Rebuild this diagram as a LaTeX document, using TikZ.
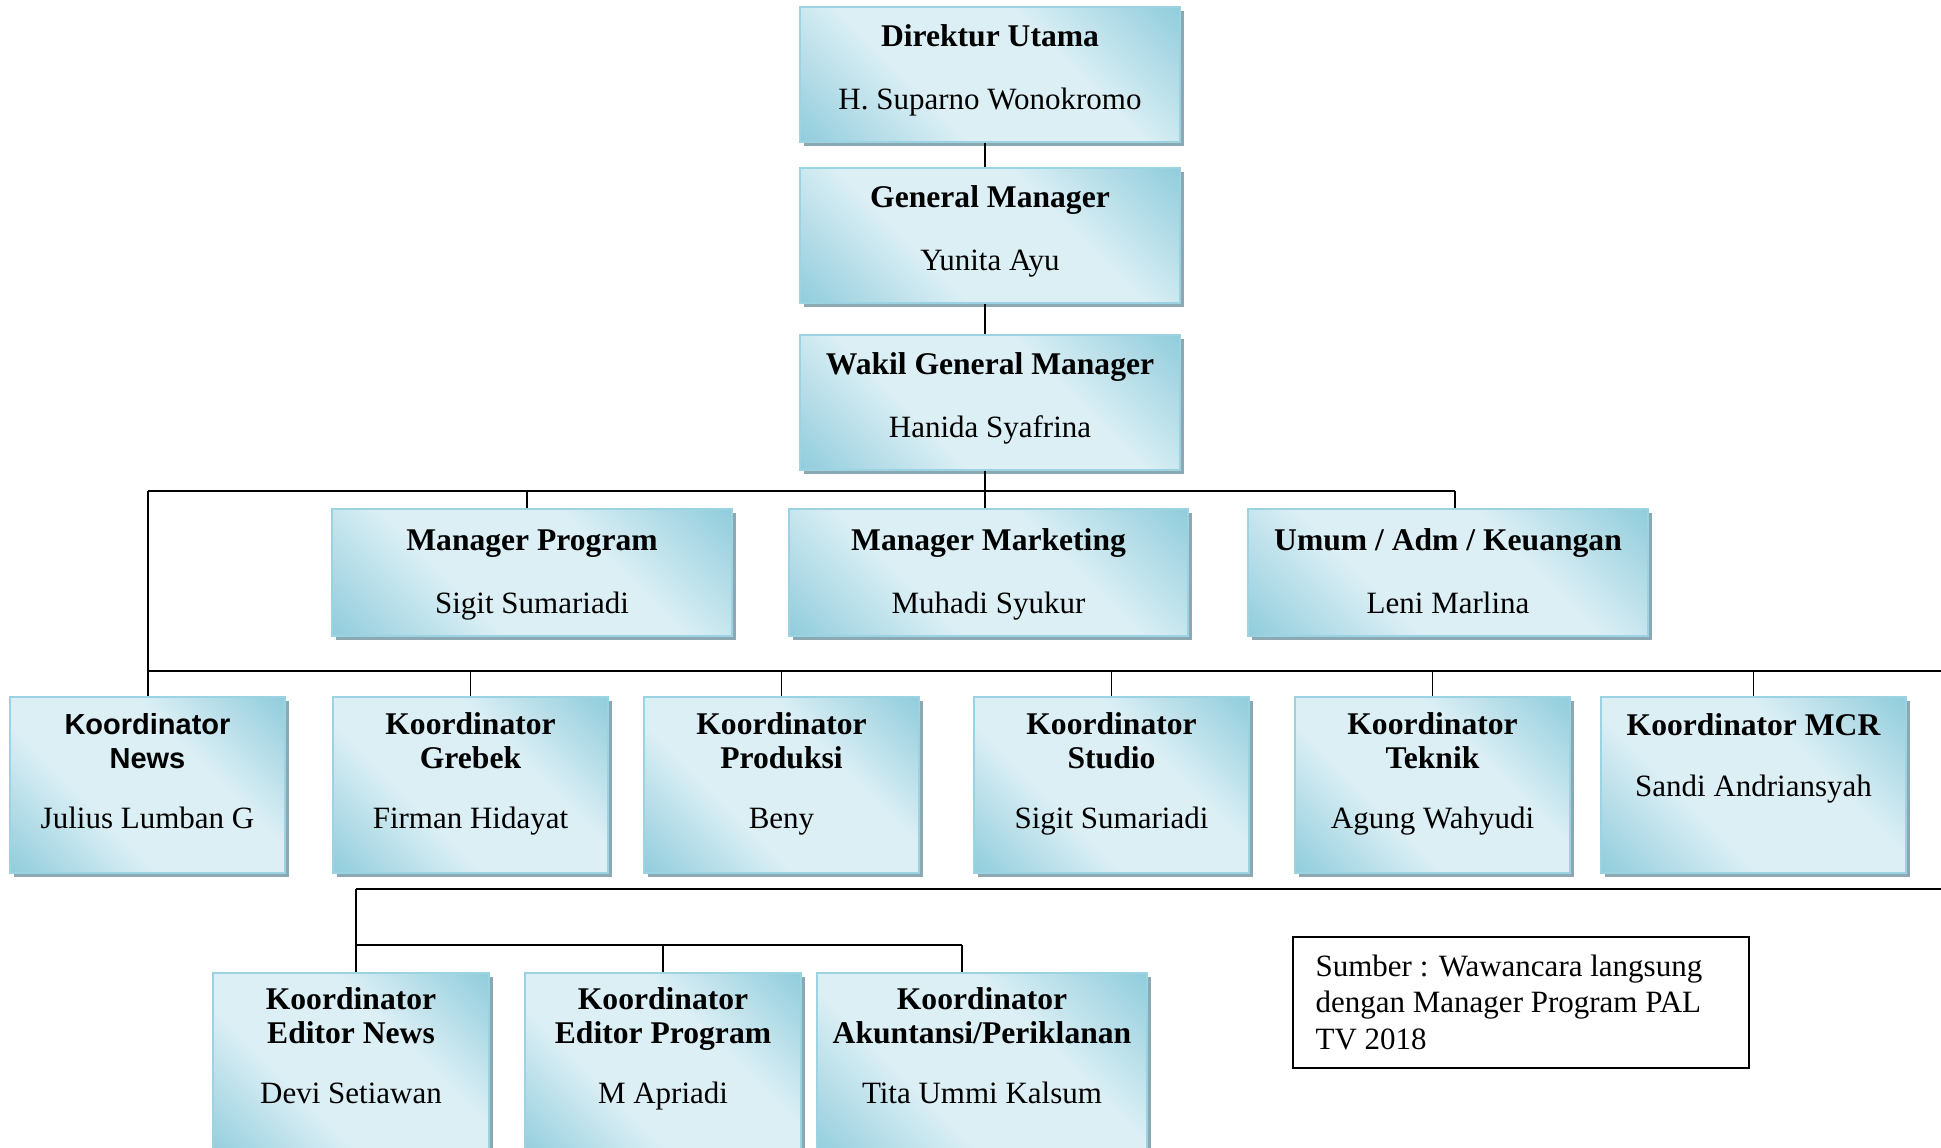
\documentclass[tikz,border=0pt]{standalone}
\usepackage{fontspec}
\setmainfont{Liberation Serif}
\newfontfamily\arialf{Liberation Sans}
\usetikzlibrary{fit,calc,shadows}
\definecolor{bdark}{RGB}{146,205,220}
\definecolor{blight}{RGB}{220,239,245}
\definecolor{bline}{RGB}{155,211,226}
\definecolor{bshadow}{RGB}{140,168,178}
\pgfdeclareverticalshading{boxshade}{100bp}{color(0bp)=(bdark); color(15bp)=(bdark); color(38bp)=(blight); color(62bp)=(blight); color(85bp)=(bdark); color(100bp)=(bdark)}
\begin{document}
\begin{tikzpicture}[x=0.5pt,y=-0.5pt,
 box/.style={rectangle, inner sep=0pt, draw=bline, line width=0.8pt,
   shading=boxshade, shading angle=-45,
   general shadow={fill=bshadow, shadow xshift=2pt, shadow yshift=-2pt}},
 tit/.style={anchor=base, font=\fontsize{15.8}{18}\selectfont\bfseries, inner sep=0pt},
 nm/.style={anchor=base, font=\fontsize{15.5}{18}\selectfont, inner sep=0pt},
 titsans/.style={anchor=base, font=\fontsize{14.5}{18}\selectfont\arialf\bfseries, inner sep=0pt},
 bus/.style={line width=1.1pt},
 drop/.style={line width=0.8pt},
 srcbox/.style={rectangle, draw=black, line width=0.8pt, inner sep=0pt},
 srct/.style={anchor=base west, font=\fontsize{15.5}{18}\selectfont, inner sep=0pt}]
\path[use as bounding box, clip] (0,0) rectangle (1941,1147);

% top chain
\node[box, fit={(800,7) (1180,142)}] (du) {};
\node[tit] (du-t) at ($(du.north)+(0,40)$) {Direktur Utama};
\node[nm] (du-n) at ($(du.north)+(0,103)$) {H. Suparno Wonokromo};

\node[box, fit={(800,168) (1180,303)}] (gm) {};
\node[tit] (gm-t) at ($(gm.north)+(0,40)$) {General Manager};
\node[nm] (gm-n) at ($(gm.north)+(0,103)$) {Yunita Ayu};

\node[box, fit={(800,335) (1180,470)}] (wgm) {};
\node[tit] (wgm-t) at ($(wgm.north)+(0,40)$) {Wakil General Manager};
\node[nm] (wgm-n) at ($(wgm.north)+(0,103)$) {Hanida Syafrina};

% managers
\node[box, fit={(332,509) (732,636)}] (mp) {};
\node[tit] (mp-t) at ($(mp.north)+(0,42)$) {Manager Program};
\node[nm] (mp-n) at ($(mp.north)+(0,105)$) {Sigit Sumariadi};

\node[box, fit={(789,509) (1188,636)}] (mm) {};
\node[tit] (mm-t) at ($(mm.north)+(0,42)$) {Manager Marketing};
\node[nm] (mm-n) at ($(mm.north)+(0,105)$) {Muhadi Syukur};

\node[box, fit={(1248,509) (1648,636)}] (uak) {};
\node[tit] (uak-t) at ($(uak.north)+(0,42)$) {Umum / Adm / Keuangan};
\node[nm] (uak-n) at ($(uak.north)+(0,105)$) {Leni Marlina};

% koordinator row
\node[box, fit={(10,697) (285,873)}] (kn) {};
\node[titsans] (kn-t1) at ($(kn.north)+(0,38)$) {Koordinator};
\node[titsans] (kn-t2) at ($(kn.north)+(0,72)$) {News};
\node[nm] (kn-n) at ($(kn.north)+(0,132)$) {Julius Lumban G};

\node[box, fit={(333,697) (608,873)}] (kg) {};
\node[tit] (kg-t1) at ($(kg.north)+(0,38)$) {Koordinator};
\node[tit] (kg-t2) at ($(kg.north)+(0,72)$) {Grebek};
\node[nm] (kg-n) at ($(kg.north)+(0,132)$) {Firman Hidayat};

\node[box, fit={(644,697) (919,873)}] (kp) {};
\node[tit] (kp-t1) at ($(kp.north)+(0,38)$) {Koordinator};
\node[tit] (kp-t2) at ($(kp.north)+(0,72)$) {Produksi};
\node[nm] (kp-n) at ($(kp.north)+(0,132)$) {Beny};

\node[box, fit={(974,697) (1249,873)}] (ks) {};
\node[tit] (ks-t1) at ($(ks.north)+(0,38)$) {Koordinator};
\node[tit] (ks-t2) at ($(ks.north)+(0,72)$) {Studio};
\node[nm] (ks-n) at ($(ks.north)+(0,132)$) {Sigit Sumariadi};

\node[box, fit={(1295,697) (1570,873)}] (kt) {};
\node[tit] (kt-t1) at ($(kt.north)+(0,38)$) {Koordinator};
\node[tit] (kt-t2) at ($(kt.north)+(0,72)$) {Teknik};
\node[nm] (kt-n) at ($(kt.north)+(0,132)$) {Agung Wahyudi};

\node[box, fit={(1601,697) (1906,873)}] (km) {};
\node[tit] (km-t) at ($(km.north)+(0,39)$) {Koordinator MCR};
\node[nm] (km-n) at ($(km.north)+(0,100)$) {Sandi Andriansyah};

% bottom row
\node[box, fit={(213,973) (489,1160)}] (ken) {};
\node[tit] (ken-t1) at ($(ken.north)+(0,37)$) {Koordinator};
\node[tit] (ken-t2) at ($(ken.north)+(0,71)$) {Editor News};
\node[nm] (ken-n) at ($(ken.north)+(0,131)$) {Devi Setiawan};

\node[box, fit={(525,973) (801,1160)}] (kep) {};
\node[tit] (kep-t1) at ($(kep.north)+(0,37)$) {Koordinator};
\node[tit] (kep-t2) at ($(kep.north)+(0,71)$) {Editor Program};
\node[nm] (kep-n) at ($(kep.north)+(0,131)$) {M Apriadi};

\node[box, fit={(817,973) (1147,1160)}] (ka) {};
\node[tit] (ka-t1) at ($(ka.north)+(0,37)$) {Koordinator};
\node[tit] (ka-t2) at ($(ka.north)+(0,71)$) {Akuntansi/Periklanan};
\node[nm] (ka-n) at ($(ka.north)+(0,131)$) {Tita Ummi Kalsum};

% source box
\node[srcbox, fit={(1293,937) (1749,1068)}] (src) {};
\node[srct] (src-1) at ($(src.north west)+(23,40)$) {Sumber : Wawancara langsung};
\node[srct] (src-2) at ($(src.north west)+(23,76)$) {dengan Manager Program PAL};
\node[srct] (src-3) at ($(src.north west)+(23,113)$) {TV 2018};

% connectors
\coordinate (vx) at (985,0);
\coordinate (b1l) at (148,491);
\coordinate (b1r) at (1455,491);
\coordinate (dmp) at (527,491);
\coordinate (b2l) at (148,671);
\coordinate (b2r) at (1941,671);
\coordinate (b3l) at (356,889);
\coordinate (b3r) at (1941,889);
\coordinate (b4l) at (356,945);
\coordinate (b4r) at (962,945);

\draw[drop] (du.south -| vx) -- (gm.north -| vx);
\draw[drop] (gm.south -| vx) -- (wgm.north -| vx);
\draw[drop] (wgm.south -| vx) -- (mm.north -| vx);
\draw[bus] (b1l) -- (b1r);
\draw[drop] (dmp) -- (mp.north -| dmp);
\draw[drop] (b1r) -- (uak.north -| b1r);
\draw[drop] (b1l) -- (kn.north -| b1l);
\draw[bus] (b2l) -- (b2r);
\draw[drop] (kg.north) -- (kg.north |- b2l);
\draw[drop] (kp.north) -- (kp.north |- b2l);
\draw[drop] (ks.north) -- (ks.north |- b2l);
\draw[drop] (kt.north) -- (kt.north |- b2l);
\draw[drop] (km.north) -- (km.north |- b2l);
\draw[bus] (b3l) -- (b3r);
\draw[drop] (b3l) -- (b4l);
\draw[bus] (b4l) -- (b4r);
\draw[drop] (b4l) -- (ken.north -| b4l);
\draw[drop] (kep.north) -- (kep.north |- b4l);
\draw[drop] (b4r) -- (ka.north -| b4r);
\end{tikzpicture}
\end{document}
